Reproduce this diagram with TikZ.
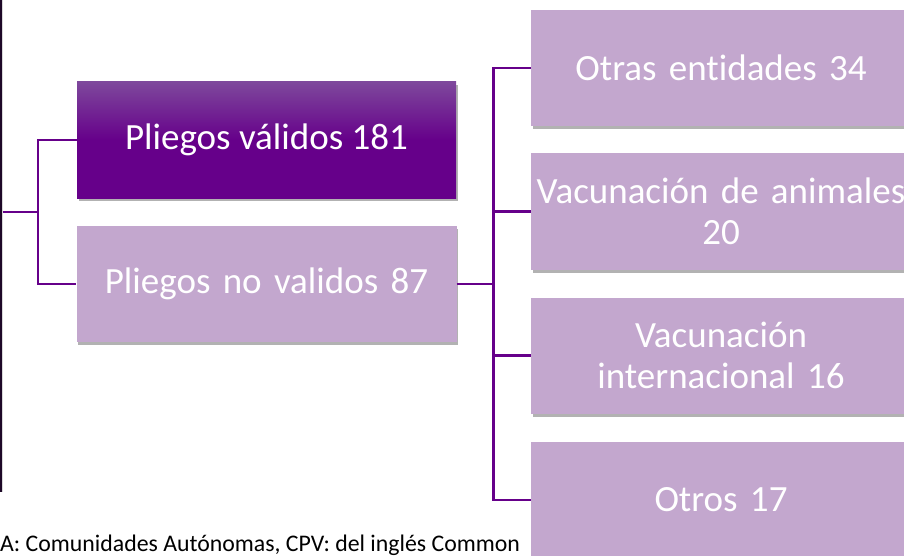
\documentclass[tikz,border=0pt]{standalone}
\usepackage{fontspec}
\setmainfont[Ligatures=NoCommon]{Carlito}
\usetikzlibrary{shadows}
\definecolor{pdark}{RGB}{102,0,138}
\definecolor{ptop}{RGB}{126,72,156}
\definecolor{plight}{RGB}{195,167,206}
\definecolor{rootc}{RGB}{30,8,40}
\tikzset{
  boxshadow/.style={drop shadow={shadow xshift=1.5pt, shadow yshift=-3pt, fill=black, opacity=0.3}},
  darkbox/.style={rectangle, minimum width=379pt, minimum height=116pt, inner sep=0pt,
     top color=ptop, bottom color=pdark, middle color=pdark, boxshadow,
     text=white, font=\fontsize{37}{41}\selectfont, align=center},
  lightbox/.style={rectangle, minimum width=380pt, minimum height=116pt, inner sep=0pt,
     fill=plight, boxshadow, text=white, font=\fontsize{37}{41}\selectfont, align=center, text width=372pt},
  rootbox/.style={rectangle, fill=rootc, inner sep=0pt, drop shadow={shadow xshift=1pt, shadow yshift=0pt, opacity=0.3}},
  conn/.style={draw=pdark, line width=2.5pt},
  footer/.style={font=\fontsize{23.8}{26}\selectfont, text=black, inner sep=0pt}
}
\begin{document}
\begin{tikzpicture}[x=1pt,y=-1pt]
\useasboundingbox (0,0) rectangle (904,556);
% root (cut off at left)
\node[rootbox, minimum width=30pt, minimum height=502pt, anchor=north east] (root) at (2.5,-10) {};
% level 1
\node[darkbox] (b1) at (266.5,140) {Pliegos válidos 181};
\node[lightbox] (b2) at (266.5,284) {Pliegos no validos 87};
% level 2
\node[lightbox] (r1) at (721,68) {Otras entidades 34};
\node[lightbox] (r2) at (721,211.5) {Vacunación de animales\\20};
\node[lightbox] (r3) at (721,355.5) {Vacunación\\internacional 16};
\node[lightbox] (r4) at (721,500) {Otros 17};
% connectors
\coordinate (j1) at (38,212);
\draw[conn] (j1 -| root.east) -- (j1);
\draw[conn] (j1) |- (b1.west);
\draw[conn] (j1) |- (b2.west);
\draw[conn] (b2.east) -- ++(37,0) coordinate (j2);
\draw[conn] (j2) |- (r1.west);
\draw[conn] (j2) |- (r2.west);
\draw[conn] (j2) |- (r3.west);
\draw[conn] (j2) |- (r4.west);
% footer
\node[footer, anchor=base west] (foot) at (0,551) {A: Comunidades Autónomas, CPV: del inglés Common};
\end{tikzpicture}
\end{document}
